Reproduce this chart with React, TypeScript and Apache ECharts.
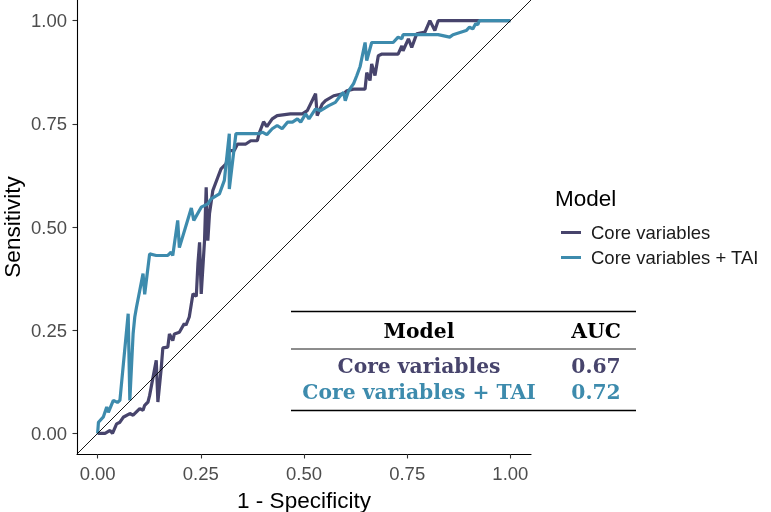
import React, { useEffect, useRef } from "react";
import * as echarts from "echarts";

const seriesNames = ["Core variables", "Core variables + TAI"];
const seriesColors = ["#47446C", "#3D8BAD"];

const coreFpr = [0, 0.018, 0.03, 0.036, 0.046, 0.054, 0.062, 0.078, 0.086, 0.102, 0.11, 0.114, 0.122, 0.126, 0.142, 0.146, 0.154, 0.158, 0.17, 0.174, 0.182, 0.186, 0.198, 0.21, 0.214, 0.222, 0.231, 0.239, 0.243, 0.247, 0.251, 0.259, 0.263, 0.267, 0.271, 0.279, 0.291, 0.299, 0.311, 0.319, 0.331, 0.339, 0.359, 0.371, 0.387, 0.391, 0.402, 0.41, 0.423, 0.435, 0.467, 0.496, 0.508, 0.528, 0.532, 0.544, 0.552, 0.572, 0.596, 0.604, 0.62, 0.648, 0.652, 0.66, 0.664, 0.672, 0.68, 0.689, 0.728, 0.737, 0.74, 0.753, 0.761, 0.773, 0.793, 0.805, 0.817, 0.825, 1.0];
const coreTpr = [0, 0, 0.007, 0, 0.023, 0.027, 0.039, 0.048, 0.044, 0.06, 0.056, 0.068, 0.076, 0.092, 0.177, 0.076, 0.157, 0.207, 0.209, 0.241, 0.225, 0.241, 0.245, 0.266, 0.262, 0.282, 0.338, 0.332, 0.411, 0.463, 0.338, 0.467, 0.596, 0.467, 0.532, 0.588, 0.62, 0.641, 0.653, 0.685, 0.685, 0.701, 0.701, 0.709, 0.709, 0.726, 0.755, 0.743, 0.762, 0.77, 0.774, 0.774, 0.782, 0.823, 0.77, 0.798, 0.806, 0.818, 0.823, 0.83, 0.834, 0.834, 0.874, 0.855, 0.895, 0.867, 0.915, 0.919, 0.919, 0.939, 0.927, 0.956, 0.935, 0.968, 0.972, 1.0, 0.976, 1.0, 1.0];

const taiFpr = [0, 0.002, 0.014, 0.022, 0.026, 0.038, 0.048, 0.054, 0.074, 0.078, 0.086, 0.09, 0.094, 0.11, 0.114, 0.126, 0.142, 0.17, 0.178, 0.182, 0.194, 0.198, 0.227, 0.233, 0.251, 0.267, 0.275, 0.295, 0.307, 0.319, 0.319, 0.335, 0.391, 0.399, 0.41, 0.423, 0.435, 0.447, 0.46, 0.472, 0.484, 0.492, 0.504, 0.512, 0.528, 0.54, 0.56, 0.576, 0.588, 0.596, 0.6, 0.608, 0.62, 0.628, 0.636, 0.648, 0.652, 0.664, 0.716, 0.728, 0.737, 0.74, 0.825, 0.853, 0.861, 0.893, 0.901, 0.909, 0.916, 0.921, 0.925, 1.0];
const taiTpr = [0, 0.027, 0.04, 0.064, 0.051, 0.08, 0.075, 0.08, 0.29, 0.08, 0.242, 0.282, 0.305, 0.387, 0.337, 0.435, 0.431, 0.431, 0.439, 0.431, 0.516, 0.45, 0.546, 0.516, 0.548, 0.556, 0.568, 0.58, 0.613, 0.726, 0.592, 0.726, 0.726, 0.73, 0.724, 0.738, 0.746, 0.738, 0.754, 0.754, 0.762, 0.754, 0.774, 0.762, 0.786, 0.782, 0.794, 0.802, 0.818, 0.826, 0.806, 0.83, 0.847, 0.867, 0.889, 0.947, 0.903, 0.947, 0.947, 0.96, 0.956, 0.966, 0.966, 0.96, 0.966, 0.976, 0.984, 0.98, 0.993, 0.99, 1.0, 1.0];

const tickValues = [0, 0.25, 0.5, 0.75, 1];
const tableHeader = ["Model", "AUC"];
const tableModels = ["Core variables", "Core variables + TAI"];
const tableAUC = ["0.67", "0.72"];

const zip = (xs: number[], ys: number[]) => xs.map((x, i) => [x, ys[i]]);

export default function App() {
  const ref = useRef<HTMLDivElement>(null);
  useEffect(() => {
    if (!ref.current) return;
    const chart = echarts.init(ref.current, null, { renderer: "svg" });
    const sans = "Liberation Sans, Arial, sans-serif";
    const serif = "DejaVu Serif, serif";
    const axisCommon = {
      type: "value" as const,
      min: -0.05,
      max: 1.05,
      splitLine: { show: false },
      axisLine: { show: true, onZero: false, lineStyle: { color: "#000", width: 1.1 } },
      axisTick: { show: true, length: 4.5, lineStyle: { color: "#333", width: 1.1 }, customValues: tickValues },
      axisLabel: {
        customValues: tickValues,
        formatter: (v: number) => v.toFixed(2),
        color: "#4D4D4D",
        fontSize: 18.5,
        fontFamily: sans,
        margin: 10,
      },
      nameLocation: "middle" as const,
      nameTextStyle: { fontSize: 22.5, color: "#000", fontFamily: sans },
    };
    const rowY = [366, 392];
    const tLeft = 291, tRight = 636, modelX = 419, aucX = 596;
    const cell = (text: string, x: number, y: number, fill: string) => ({
      type: "text", x, y,
      style: { text, align: "center", verticalAlign: "middle", fontSize: 20.3, fontWeight: "bold", fontFamily: serif, fill },
    });
    const graphics: any[] = [
      { type: "text", x: 555, y: 198, style: { text: "Model", verticalAlign: "middle", fontSize: 22.5, fontFamily: sans, fill: "#000" } },
      { type: "line", shape: { x1: tLeft, y1: 311.5, x2: tRight, y2: 311.5 }, style: { stroke: "#000", lineWidth: 1.4 } },
      { type: "line", shape: { x1: tLeft, y1: 349, x2: tRight, y2: 349 }, style: { stroke: "#000", lineWidth: 0.9 } },
      { type: "line", shape: { x1: tLeft, y1: 410.5, x2: tRight, y2: 410.5 }, style: { stroke: "#000", lineWidth: 1.4 } },
      cell(tableHeader[0], modelX, 331, "#000"),
      cell(tableHeader[1], aucX, 331, "#000"),
    ];
    tableModels.forEach((m, i) => {
      graphics.push(cell(m, modelX, rowY[i], seriesColors[i]));
      graphics.push(cell(tableAUC[i], aucX, rowY[i], seriesColors[i]));
    });
    chart.setOption({
      animation: false,
      grid: { left: 77, top: 0, right: 240, bottom: 58, containLabel: false, outerBoundsMode: "none" },
      xAxis: { ...axisCommon, name: "1 - Specificity", nameGap: 35 },
      yAxis: { ...axisCommon, name: "Sensitivity", nameGap: 53, nameMoveOverlap: false },
      legend: {
        data: seriesNames,
        orient: "vertical",
        left: 556,
        top: 218,
        itemWidth: 20,
        itemHeight: 3,
        itemGap: 6,
        icon: "rect",
        textStyle: { fontSize: 18.5, color: "#1a1a1a", fontFamily: sans, padding: [0, 0, 0, 5] },
      },
      graphic: graphics,
      series: [
        { name: seriesNames[0], type: "line", data: zip(coreFpr, coreTpr), showSymbol: false, lineStyle: { color: seriesColors[0], width: 3.2 }, itemStyle: { color: seriesColors[0] } },
        { name: seriesNames[1], type: "line", data: zip(taiFpr, taiTpr), showSymbol: false, lineStyle: { color: seriesColors[1], width: 3.2 }, itemStyle: { color: seriesColors[1] } },
        { name: "diag", type: "line", data: [[-0.05, -0.05], [1.05, 1.05]], showSymbol: false, silent: true, lineStyle: { color: "#000", width: 0.9 }, z: 3 },
      ],
    });
    return () => chart.dispose();
  }, []);
  return <div ref={ref} style={{ position: "fixed", left: 0, top: 0, width: 771, height: 512 }} />;
}
